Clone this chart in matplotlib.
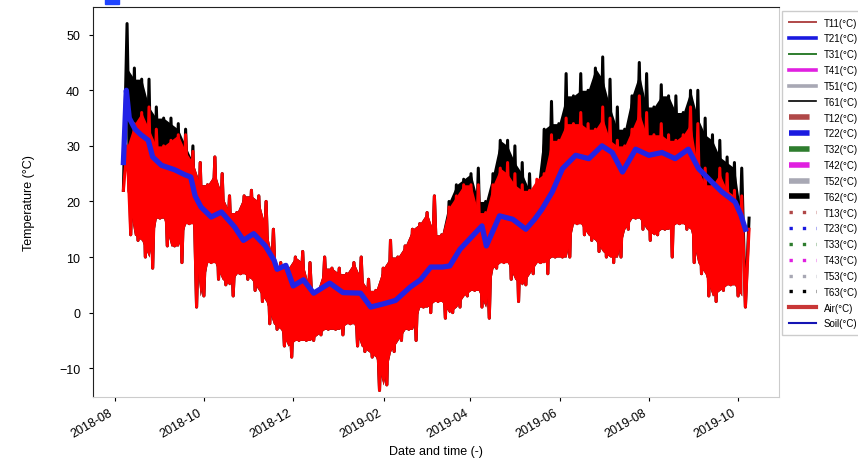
import numpy as np
import pandas as pd
import matplotlib
matplotlib.use("Agg")
import matplotlib.pyplot as plt
import matplotlib.dates as mdates
from matplotlib.lines import Line2D
from matplotlib.patches import Rectangle

plt.rcParams["font.family"] = ["Liberation Sans", "DejaVu Sans"]

# sensor readings, one low/high pair every 5 days from 2018-08-07
start_day = "2018-08-07"
step = "5D"

t12_low = [22, 14, 13, 10, 8, 17, 12, 12, 9, 16,
           1, 3, 9, 6, 5, 3, 7, 6, 4, 2,
           -2, -3, -6, -8, -5, -5, -5, -4, -3, -3,
           -4, -2, -6, -7, -8, -14, -13, -7, -5, -3,
           -5, 1, 0, 2, -1, 0, 1, 3, 4, 1,
           -1, 8, 9, 6, 2, 5, 7, 9, 7, 10,
           10, 10, 16, 14, 13, 11, 10, 9, 10, 15,
           17, 15, 13, 14, 15, 10, 16, 15, 9, 7,
           3, 2, 4, 5, 3, 1]

t12_high = [30, 34, 36, 37, 33, 30, 31, 32, 32, 29,
            27, 23, 28, 25, 21, 18, 21, 22, 21, 20,
            15, 9, 8, 10, 11, 9, 4, 10, 8, 8,
            7, 9, 10, 6, 4, 8, 13, 10, 12, 15,
            16, 18, 21, 14, 19, 21, 23, 23, 23, 18,
            23, 26, 27, 25, 23, 22, 24, 25, 32, 31,
            35, 34, 36, 34, 33, 37, 35, 31, 30, 33,
            39, 36, 32, 34, 32, 31, 32, 37, 34, 26,
            23, 26, 25, 22, 21, 15]

t62_high = [52, 44, 42, 42, 37, 35, 35, 34, 33, 30,
            27, 23, 28, 25, 21, 18, 21, 22, 21, 20,
            15, 9, 8, 10, 11, 9, 4, 10, 8, 8,
            7, 9, 10, 6, 4, 8, 13, 10, 12, 15,
            16, 18, 21, 14, 20, 23, 24, 25, 26, 20,
            25, 31, 31, 30, 27, 25, 22, 33, 38, 34,
            43, 39, 43, 40, 44, 46, 42, 37, 33, 39,
            45, 43, 37, 41, 39, 39, 36, 40, 40, 35,
            32, 31, 28, 27, 26, 17]

# slower deep sensor, days after 2018-08-01
t22_day = [6, 8, 10, 14, 18, 23, 26, 32, 41, 48, 52, 55, 59, 66, 73, 82, 88, 95,
           103, 109, 111, 117, 122, 129, 136, 147, 156, 168, 175, 184, 192, 202,
           209, 216, 224, 229, 236, 251, 254, 263, 272, 281, 287, 292, 299, 306,
           315, 324, 333, 340, 347, 356, 365, 374, 383, 392, 399, 408, 415, 424,
           428, 431]
t22_val = [27, 40, 35, 33, 32, 31, 28, 26.5, 25.7, 24.8, 24.4, 21, 19, 17.2, 18.1,
           15.4, 13, 14.2, 12, 9.4, 7.8, 8.5, 4.8, 5.9, 3.5, 5.3, 3.6, 3.5, 1.0,
           1.6, 2.2, 4.6, 5.9, 8.2, 8.2, 8.4, 11.4, 15.6, 12, 17.4, 16.8, 15, 16.8,
           18.6, 21.7, 25.9, 28.3, 27.7, 30, 28.8, 25.3, 29.4, 28.3, 28.8, 27.7,
           29.4, 25.9, 23.5, 21.7, 19.9, 17.5, 15]

legend_labels = ["T11(°C)", "T21(°C)", "T31(°C)", "T41(°C)", "T51(°C)", "T61(°C)",
                 "T12(°C)", "T22(°C)", "T32(°C)", "T42(°C)", "T52(°C)", "T62(°C)",
                 "T13(°C)", "T23(°C)", "T33(°C)", "T43(°C)", "T53(°C)", "T63(°C)",
                 "Air(°C)", "Soil(°C)"]
level_colors = ["#b04848", "#1a1ae0", "#2e7d2e", "#e020e0", "#a8a8b4", "black"]


def draw_band(ax, low, high, color, z):
    # zigzag through the daily swings (low, then high half a step later),
    # over a solid core where neighbouring readings overlap
    x = mdates.date2num(pd.date_range(start_day, periods=len(low), freq=step).to_pydatetime())
    low = np.asarray(low, dtype=float)
    high = np.asarray(high, dtype=float)
    core_lo = np.maximum(low[:-1], low[1:])
    core_hi = np.minimum(high[:-1], high[1:])
    ax.fill_between(x[:-1] + 2.5, core_lo, core_hi, color=color, lw=0, zorder=z)

    zx = np.empty(2 * len(x))
    zy = np.empty(2 * len(x))
    zx[0::2], zx[1::2] = x, x + 2.5
    zy[0::2], zy[1::2] = low, high
    ax.plot(zx, zy, color=color, lw=2.2, zorder=z)


fig = plt.figure(figsize=(8.58, 4.64), dpi=100)
ax = fig.add_axes([0.108, 0.142, 0.800, 0.841])

draw_band(ax, t12_low, t62_high, "black", 2)
draw_band(ax, t12_low, t12_high, "#ff0000", 3)
soil_t = mdates.date2num(pd.Timestamp("2018-08-01")) + np.asarray(t22_day, dtype=float)
ax.plot(soil_t, t22_val, color="#2222e6", lw=3.8, zorder=4)

ax.xaxis_date()
ax.set_xlim(pd.Timestamp("2018-07-17"), pd.Timestamp("2019-10-29"))
ax.set_ylim(-15.2, 55)
ax.set_yticks([-10, 0, 10, 20, 30, 40, 50])
ax.xaxis.set_major_locator(mdates.MonthLocator(bymonth=[2, 4, 6, 8, 10, 12]))
ax.xaxis.set_major_formatter(mdates.DateFormatter("%Y-%m"))
for lab in ax.get_xticklabels():
    lab.set_rotation(30)
    lab.set_ha("right")
ax.tick_params(labelsize=9, length=3, width=0.8)
ax.tick_params(axis="y", pad=6)
ax.set_xlabel("Date and time (-)", fontsize=9)
ax.set_ylabel("Temperature (°C)", fontsize=9, labelpad=17)
for side in ["left", "top"]:
    ax.spines[side].set_color("#222222")
for side in ["bottom", "right"]:
    ax.spines[side].set_color("#cccccc")

# legend: thin solid, thick dashed, dotted sensor levels, then air and soil
handles = []
widths = [1.4, 2.6, 1.4, 2.6, 2.6, 1.2]
for i, lab in enumerate(legend_labels[:18]):
    group, k = divmod(i, 6)
    if group == 0:
        h = Line2D([], [], color=level_colors[k], lw=widths[k], ls="-")
    elif group == 1:
        h = Line2D([], [], color=level_colors[k], lw=4, ls="--")
    else:
        h = Line2D([], [], color=level_colors[k], lw=2.4, ls=(0, (1, 3)))
    h.set_label(lab)
    handles.append(h)
handles.append(Line2D([], [], color="#c83737", lw=3, label=legend_labels[18]))
handles.append(Line2D([], [], color="#1414b4", lw=1.5, label=legend_labels[19]))
leg = ax.legend(handles=handles, loc="upper left", bbox_to_anchor=(1.004, 0.99),
                borderaxespad=0, fontsize=7, handlelength=2.8, labelspacing=0.6,
                borderpad=0.7, fancybox=False, framealpha=1)
leg.get_frame().set_edgecolor("#cccccc")

fig.patches.append(Rectangle((105 / 858, 1 - 5 / 464), 14 / 858, 5 / 464,
                             transform=fig.transFigure, color="#1f44ff"))

fig.savefig("out.png", dpi=100)
